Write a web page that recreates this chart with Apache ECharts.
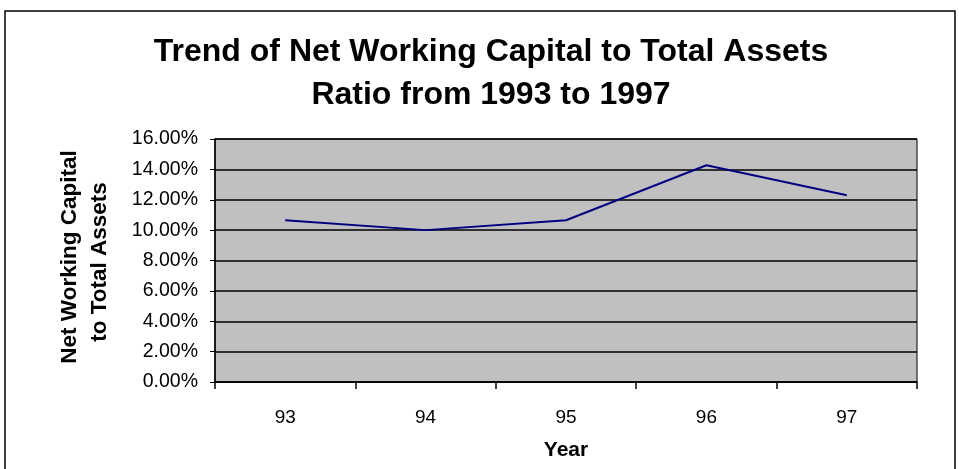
<!DOCTYPE html>
<html>
<head>
<meta charset="utf-8">
<script src="https://cdn.jsdelivr.net/npm/echarts@6/dist/echarts.min.js"></script>
<style>
  html, body { margin: 0; padding: 0; background: #fff; }
  #chart { width: 959px; height: 469px; }
</style>
</head>
<body>
<div id="chart"></div>
<script>
// Net working capital as a share of total assets, by fiscal year
const years = ['93', '94', '95', '96', '97'];
const ratioPct = [10.65, 10.0, 10.65, 14.27, 12.3];
const yTicks = { min: 0, max: 16, step: 2 };

const FONT = '"Liberation Sans", Arial, sans-serif';
const chart = echarts.init(document.getElementById('chart'), null, { renderer: 'canvas' });

chart.setOption({
  backgroundColor: '#ffffff',
  animation: false,
  grid: {
    left: 215, right: 42, top: 139, bottom: 87,
    show: true,
    backgroundColor: '#c0c0c0',
    borderColor: '#000000',
    borderWidth: 1
  },
  xAxis: {
    type: 'category',
    data: years,
    boundaryGap: true,
    axisLine: { lineStyle: { color: '#000', width: 1.5 } },
    axisTick: { show: true, length: 7, lineStyle: { color: '#000', width: 1.5 } },
    axisLabel: { color: '#000', fontFamily: FONT, fontSize: 19, margin: 26 },
    name: 'Year',
    nameLocation: 'middle',
    nameGap: 58,
    nameTextStyle: { color: '#000', fontFamily: FONT, fontSize: 21, fontWeight: 'bold' }
  },
  yAxis: {
    type: 'value',
    min: yTicks.min, max: yTicks.max, interval: yTicks.step,
    axisLine: { show: true, lineStyle: { color: '#000', width: 1.5 } },
    axisTick: { show: true, length: 5, lineStyle: { color: '#000' } },
    axisLabel: {
      color: '#000', fontFamily: FONT, fontSize: 19.5, margin: 17,
      formatter: v => v.toFixed(2) + '%'
    },
    splitLine: { show: true, lineStyle: { color: '#000', width: 1.5 } }
  },
  series: [{
    type: 'line',
    data: ratioPct,
    symbol: 'none',
    lineStyle: { color: '#000080', width: 2 }
  }],
  graphic: [
    {
      type: 'rect',
      shape: { x: 5, y: 11, width: 950, height: 480 },
      style: { fill: 'none', stroke: '#000', lineWidth: 1.5 },
      silent: true
    },
    {
      type: 'text', x: 491, y: 52,
      style: {
        text: 'Trend of Net Working Capital to Total Assets',
        fill: '#000', font: 'bold 32px ' + FONT,
        textAlign: 'center', textVerticalAlign: 'middle'
      }
    },
    {
      type: 'text', x: 491, y: 95,
      style: {
        text: 'Ratio from 1993 to 1997',
        fill: '#000', font: 'bold 32px ' + FONT,
        textAlign: 'center', textVerticalAlign: 'middle'
      }
    },
    {
      type: 'text', x: 70, y: 257, rotation: Math.PI / 2,
      style: {
        text: 'Net Working Capital',
        fill: '#000', font: 'bold 22.5px ' + FONT,
        textAlign: 'center', textVerticalAlign: 'middle'
      }
    },
    {
      type: 'text', x: 100, y: 262, rotation: Math.PI / 2,
      style: {
        text: 'to Total Assets',
        fill: '#000', font: 'bold 22.5px ' + FONT,
        textAlign: 'center', textVerticalAlign: 'middle'
      }
    }
  ]
});
</script>
</body>
</html>
